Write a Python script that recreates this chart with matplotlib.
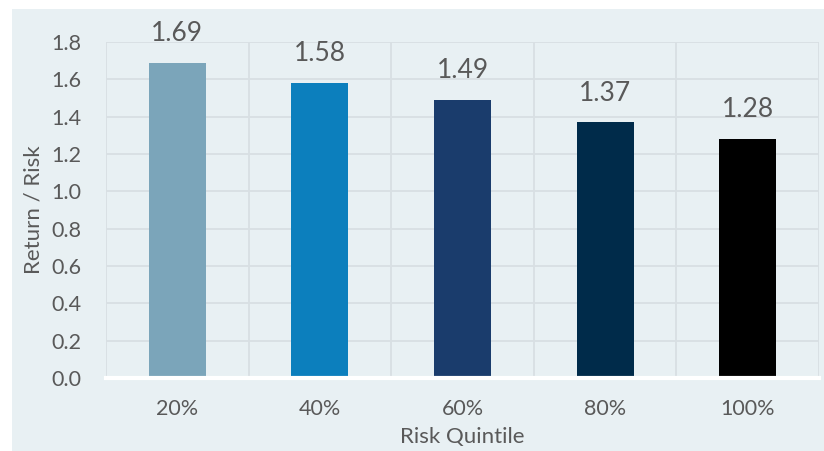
import matplotlib.pyplot as plt
from matplotlib.patches import Rectangle

# DATA
quintiles = ["20%", "40%", "60%", "80%", "100%"]
return_risk = [1.69, 1.58, 1.49, 1.37, 1.28]
bar_colors = ["#7BA5BA", "#0C7FBD", "#1A3C6C", "#002B4A", "#000000"]

bg = "#E8F0F3"
grid_color = "#D8DFE3"
text_color = "#595959"

plt.rcParams["font.family"] = ["Lato", "DejaVu Sans"]

fig = plt.figure(figsize=(8.24, 4.51), dpi=100, facecolor="white")
# shaded chart area (leaves thin white margin top/left)
fig.patches.append(Rectangle((12 / 824, 0), 1 - 12 / 824, 1 - 9 / 451,
                             transform=fig.transFigure, facecolor=bg,
                             edgecolor="none", zorder=-10))

ax = fig.add_axes([106 / 824, 1 - 378 / 451, (819 - 106) / 824, (378 - 42) / 451])
ax.set_facecolor(bg)

x = list(range(len(quintiles)))
bars = ax.bar(x, return_risk, width=0.4, color=bar_colors, zorder=3)

for xi, v in zip(x, return_risk):
    ax.annotate(f"{v:.2f}", (xi, v), xytext=(0, 21), textcoords="offset points",
                ha="center", va="center", fontsize=19, color=text_color)

ax.set_xlim(-0.5, len(quintiles) - 0.5)
ax.set_ylim(0, 1.8)
ax.set_yticks([i * 0.2 for i in range(10)])
ax.set_yticklabels([f"{i * 0.2:.1f}" for i in range(10)])
ax.set_xticks(x)
ax.set_xticklabels(quintiles)

# gridlines: horizontal at ticks, vertical at category boundaries
ax.set_xticks([i - 0.5 for i in range(len(quintiles) + 1)], minor=True)
ax.grid(axis="y", which="major", color=grid_color, linewidth=1.3, zorder=1)
ax.grid(axis="x", which="minor", color=grid_color, linewidth=1.3, zorder=1)
ax.tick_params(which="both", length=0)
ax.tick_params(axis="y", labelsize=15.5, labelcolor=text_color, pad=18)
ax.tick_params(axis="x", labelsize=15.5, labelcolor=text_color, pad=15)

for s in ["top", "right", "left"]:
    ax.spines[s].set_visible(False)
ax.spines["bottom"].set_color("white")
ax.spines["bottom"].set_linewidth(3)
ax.spines["bottom"].set_zorder(4)

ax.set_xlabel("Risk Quintile", fontsize=16, color=text_color, labelpad=6)
ax.set_ylabel("Return / Risk", fontsize=16, color=text_color, labelpad=5)

plt.savefig("out.png", dpi=100, facecolor="white")
